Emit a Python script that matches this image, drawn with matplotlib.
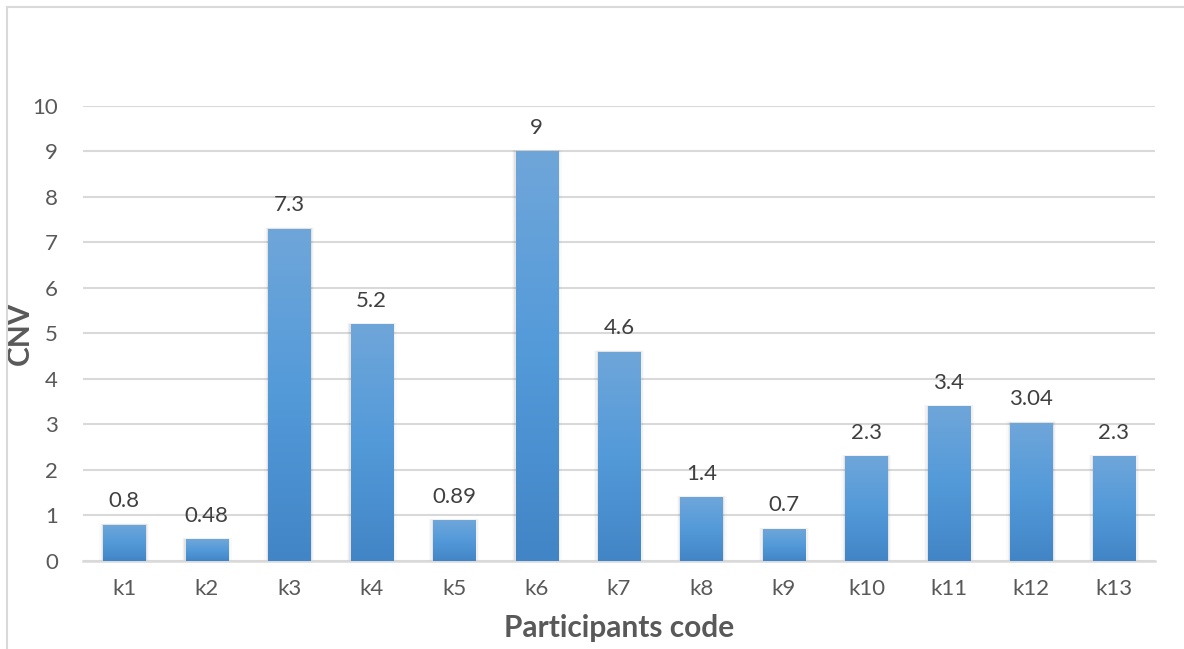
import matplotlib.pyplot as plt
from matplotlib.patches import Rectangle
from matplotlib.lines import Line2D
from matplotlib.colors import LinearSegmentedColormap
import numpy as np

# CNV per participant
codes = ['k1', 'k2', 'k3', 'k4', 'k5', 'k6', 'k7', 'k8', 'k9', 'k10', 'k11', 'k12', 'k13']
cnv = [0.8, 0.48, 7.3, 5.2, 0.89, 9, 4.6, 1.4, 0.7, 2.3, 3.4, 3.04, 2.3]
value_labels = ['0.8', '0.48', '7.3', '5.2', '0.89', '9', '4.6', '1.4', '0.7', '2.3', '3.4', '3.04', '2.3']

plt.rcParams['font.family'] = ['Lato', 'DejaVu Sans']
txt = '#595959'
grid_c = '#d9d9d9'

fig = plt.figure(figsize=(11.84, 6.49), dpi=100)
ax = fig.add_axes([0.0701, 0.1356, 0.9055, 0.7011])

x = np.arange(len(codes))
width = 0.51

# soft shadow behind each bar
for xi, v in zip(x, cnv):
    for k, a in enumerate([0.07, 0.045, 0.025]):
        pad = 0.016 * (k + 1)
        ax.add_patch(Rectangle((xi - width / 2 - pad, 0), width + 2 * pad, v + 0.012 * (k + 1),
                               facecolor='#303030', alpha=a, edgecolor='none', zorder=2))

bars = ax.bar(x, cnv, width=width, color='none', edgecolor='none', zorder=3)

# vertical gradient fill, lighter at the top
grad = LinearSegmentedColormap.from_list('bar', ['#4285c6', '#539ad9', '#6fa6da'])
g = np.linspace(0, 1, 256).reshape(-1, 1)
for b in bars:
    x0, y0, w, h = b.get_x(), b.get_y(), b.get_width(), b.get_height()
    im = ax.imshow(g, cmap=grad, origin='lower', aspect='auto',
                   extent=(x0, x0 + w, y0, y0 + h), zorder=3)
    im.set_clip_path(b)

for xi, v, lab in zip(x, cnv, value_labels):
    ax.text(xi, v + 0.3, lab, ha='center', va='bottom', fontsize=16, color='#404040')

ax.set_xlim(-0.5, len(codes) - 0.5)
ax.set_ylim(0, 10)
ax.set_yticks(range(0, 11))
ax.set_xticks(x)
ax.set_xticklabels(codes)
ax.yaxis.grid(True, color=grid_c, linewidth=1.5, zorder=0)
ax.set_axisbelow(True)
for s in ['top', 'right', 'left']:
    ax.spines[s].set_visible(False)
ax.spines['bottom'].set_color(grid_c)
ax.spines['bottom'].set_linewidth(1.8)
ax.tick_params(axis='both', length=0, labelsize=16, colors=txt)
ax.tick_params(axis='x', pad=13)
ax.tick_params(axis='y', pad=18)

ax.set_xlabel('Participants code', fontsize=21.5, fontweight='bold', color=txt, labelpad=11)
ax.set_ylabel('CNV', fontsize=21.5, fontweight='bold', color=txt)
ax.yaxis.set_label_coords(-0.046, 0.5)

# chart area border
fig.add_artist(Line2D([7 / 1184, 7 / 1184], [0, 1 - 7 / 649], transform=fig.transFigure,
                      color=grid_c, linewidth=1.5))
fig.add_artist(Line2D([7 / 1184, 1], [1 - 7 / 649, 1 - 7 / 649], transform=fig.transFigure,
                      color=grid_c, linewidth=1.5))

fig.savefig('out.png', dpi=100)
